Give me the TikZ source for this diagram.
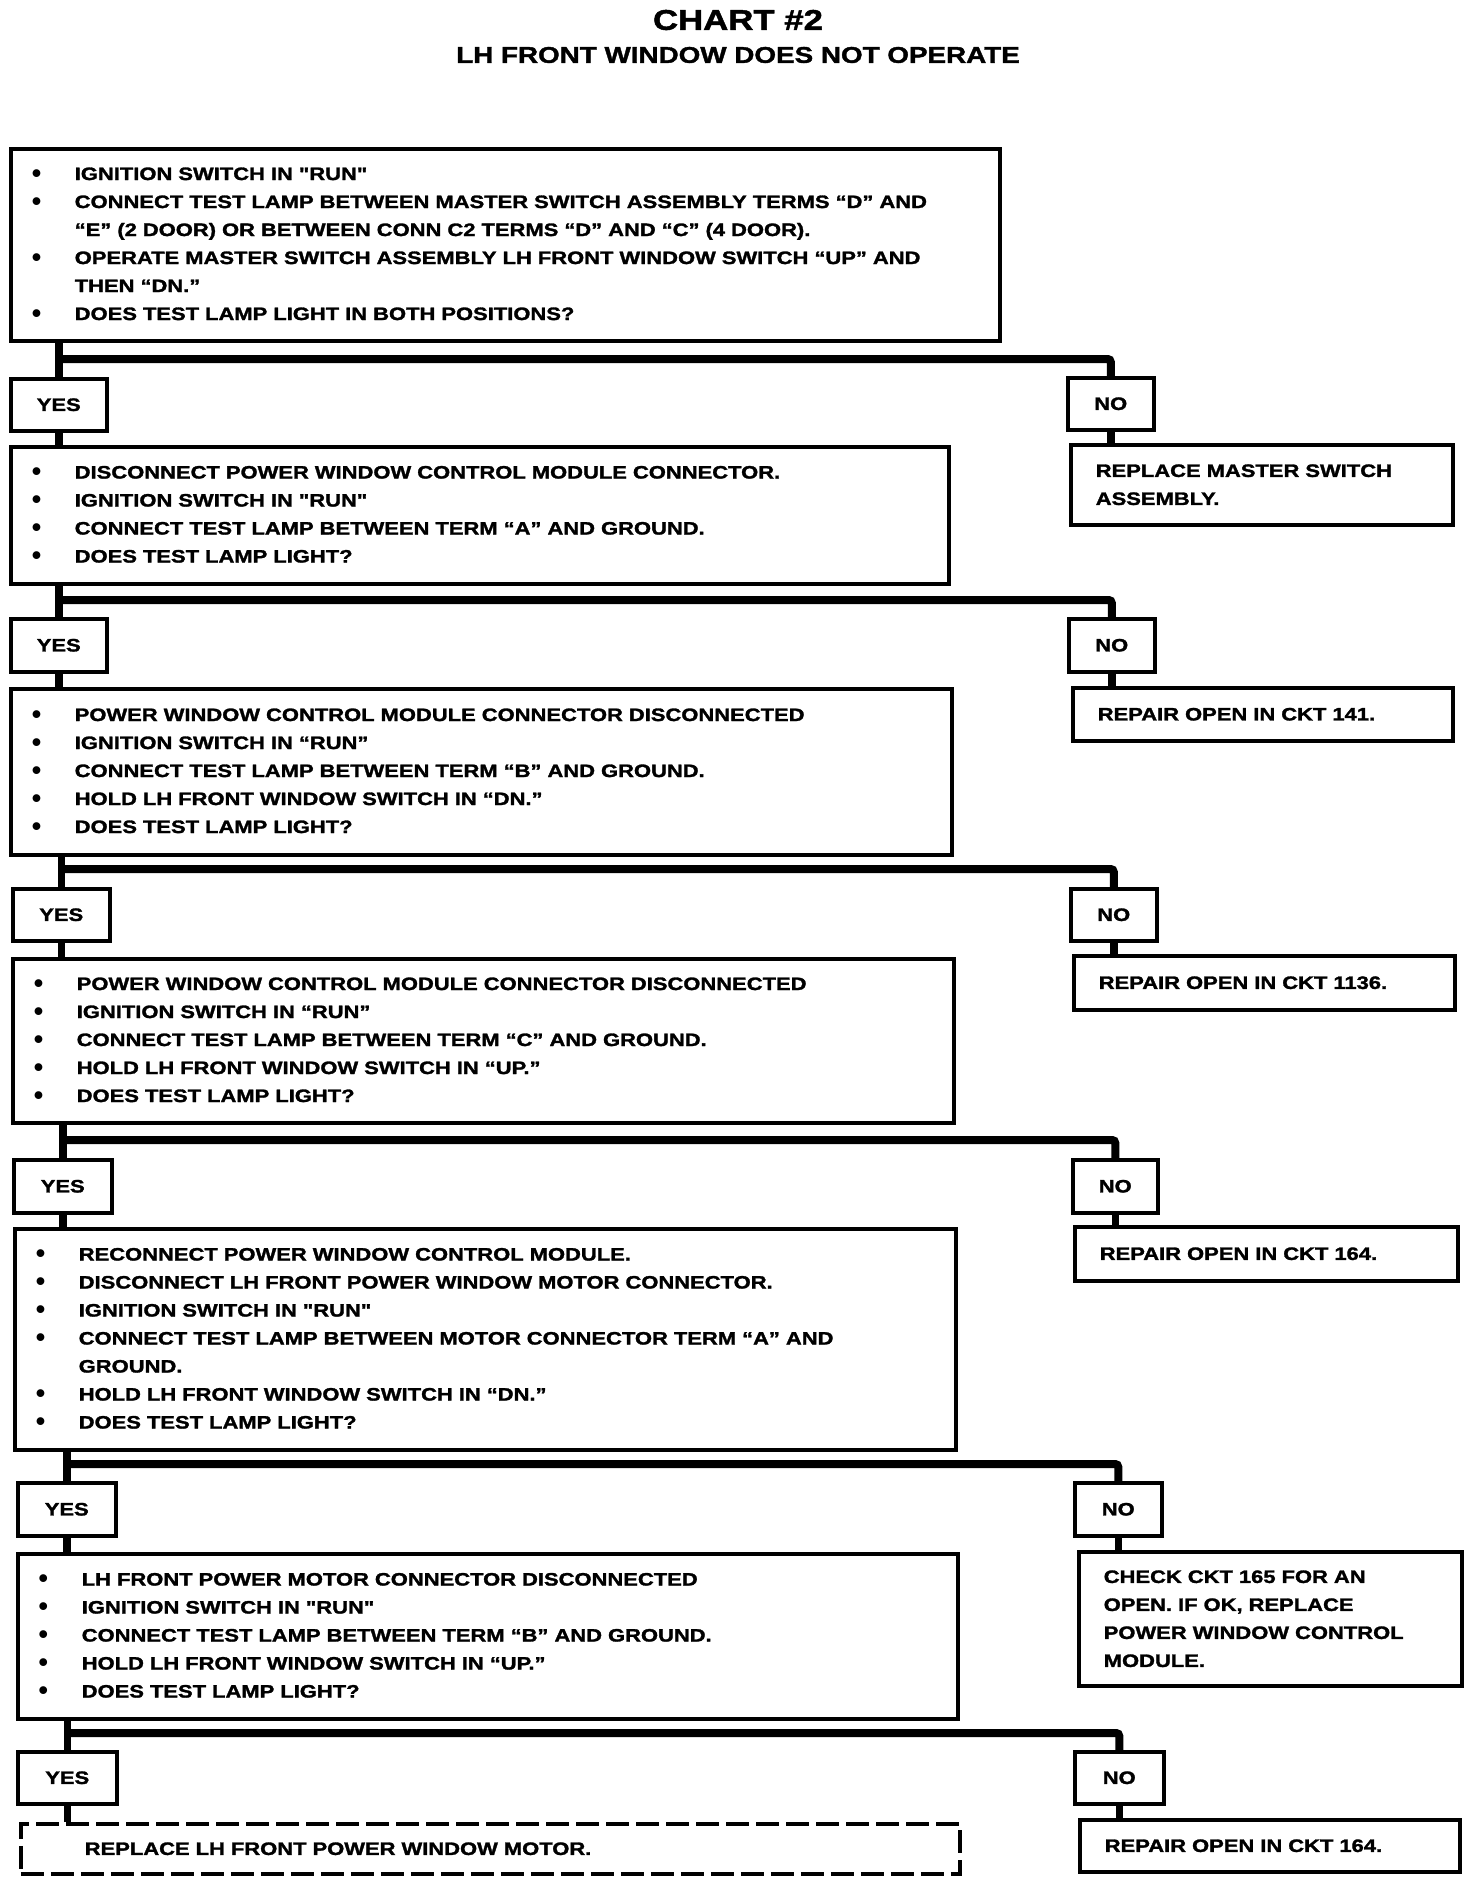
\documentclass[tikz,border=0pt]{standalone}
\usepackage{fontspec}
\setmainfont{Liberation Sans}[FakeStretch=1.22, FakeBold=1.6, Ligatures=TeXOff]
\newfontfamily\blfont{Liberation Sans}
\usetikzlibrary{calc}
\newcommand\bl{\makebox[44pt][l]{\hspace{1pt}\raisebox{-2pt}{\blfont\fontsize{27}{27}\selectfont •}}}
\newcommand\ind{\hspace*{44pt}}
\tikzset{
  bodyfont/.style={font=\fontsize{18}{28}\selectfont\bfseries},
  qbox/.style={draw, line width=3.5pt, anchor=north west, inner xsep=20pt, inner ysep=0pt, align=left, bodyfont},
  rbox/.style={draw, line width=3.5pt, anchor=north west, inner xsep=25pt, inner ysep=0pt, align=left, bodyfont},
  ybox/.style={draw, line width=3.5pt, anchor=north west, inner sep=0pt, align=center, bodyfont},
  dbox/.style={draw, line width=3.5pt, dash pattern=on 23pt off 7pt, anchor=north west, inner xsep=64pt, inner ysep=0pt, align=left, bodyfont},
  conn/.style={line width=7.5pt},
  bar/.style={line width=8pt, rounded corners=3pt},
}
\begin{document}
\begin{tikzpicture}[x=1pt,y=-1pt]
\useasboundingbox (0,0) rectangle (1472,1884);
% titles
\node[font=\fontsize{28.5}{30}\selectfont\bfseries] (title) at (738,20) {CHART \#2};
\node[font=\fontsize{22.8}{24}\selectfont\bfseries] (subtitle) at (738,55) {LH FRONT WINDOW DOES NOT OPERATE};

% level 1
\node[qbox, minimum width=989pt, minimum height=192pt, text width=949pt] (q1) at (9,147) {%
\bl IGNITION SWITCH IN "RUN"\\
\bl CONNECT TEST LAMP BETWEEN MASTER SWITCH ASSEMBLY TERMS “D” AND\\
\ind “E” (2 DOOR) OR BETWEEN CONN C2 TERMS “D” AND “C” (4 DOOR).\\
\bl OPERATE MASTER SWITCH ASSEMBLY LH FRONT WINDOW SWITCH “UP” AND\\
\ind THEN “DN.”\\
\bl DOES TEST LAMP LIGHT IN BOTH POSITIONS?};
\coordinate (b1) at (0,359);
\node[ybox, minimum width=96pt, minimum height=52pt] (yes1) at (9,377) {YES};
\node[ybox, minimum width=86pt, minimum height=52pt] (no1) at (1066,376) {NO};

% level 2
\node[qbox, minimum width=938pt, minimum height=137pt, text width=898pt] (q2) at (9,445) {%
\bl DISCONNECT POWER WINDOW CONTROL MODULE CONNECTOR.\\
\bl IGNITION SWITCH IN "RUN"\\
\bl CONNECT TEST LAMP BETWEEN TERM “A” AND GROUND.\\
\bl DOES TEST LAMP LIGHT?};
\node[rbox, minimum width=382pt, minimum height=80pt, text width=332pt] (r1) at (1069,443) {REPLACE MASTER SWITCH\\ASSEMBLY.};
\coordinate (b2) at (0,600);
\node[ybox, minimum width=96pt, minimum height=53pt] (yes2) at (9,617) {YES};
\node[ybox, minimum width=86pt, minimum height=53pt] (no2) at (1067,617) {NO};

% level 3
\node[qbox, minimum width=941pt, minimum height=166pt, text width=901pt] (q3) at (9,687) {%
\bl POWER WINDOW CONTROL MODULE CONNECTOR DISCONNECTED\\
\bl IGNITION SWITCH IN “RUN”\\
\bl CONNECT TEST LAMP BETWEEN TERM “B” AND GROUND.\\
\bl HOLD LH FRONT WINDOW SWITCH IN “DN.”\\
\bl DOES TEST LAMP LIGHT?};
\node[rbox, minimum width=380pt, minimum height=53pt, text width=330pt] (r2) at (1071,686) {REPAIR OPEN IN CKT 141.};
\coordinate (b3) at (0,869);
\node[ybox, minimum width=97pt, minimum height=52pt] (yes3) at (11,887) {YES};
\node[ybox, minimum width=86pt, minimum height=52pt] (no3) at (1069,887) {NO};

% level 4
\node[qbox, minimum width=941pt, minimum height=164pt, text width=901pt] (q4) at (11,957) {%
\bl POWER WINDOW CONTROL MODULE CONNECTOR DISCONNECTED\\
\bl IGNITION SWITCH IN “RUN”\\
\bl CONNECT TEST LAMP BETWEEN TERM “C” AND GROUND.\\
\bl HOLD LH FRONT WINDOW SWITCH IN “UP.”\\
\bl DOES TEST LAMP LIGHT?};
\node[rbox, minimum width=381pt, minimum height=54pt, text width=331pt] (r3) at (1072,954) {REPAIR OPEN IN CKT 1136.};
\coordinate (b4) at (0,1140);
\node[ybox, minimum width=98pt, minimum height=53pt] (yes4) at (12,1158) {YES};
\node[ybox, minimum width=85pt, minimum height=53pt] (no4) at (1071,1158) {NO};

% level 5
\node[qbox, minimum width=941pt, minimum height=221pt, text width=901pt] (q5) at (13,1227) {%
\bl RECONNECT POWER WINDOW CONTROL MODULE.\\
\bl DISCONNECT LH FRONT POWER WINDOW MOTOR CONNECTOR.\\
\bl IGNITION SWITCH IN "RUN"\\
\bl CONNECT TEST LAMP BETWEEN MOTOR CONNECTOR TERM “A” AND\\
\ind GROUND.\\
\bl HOLD LH FRONT WINDOW SWITCH IN “DN.”\\
\bl DOES TEST LAMP LIGHT?};
\node[rbox, minimum width=383pt, minimum height=54pt, text width=333pt] (r4) at (1073,1225) {REPAIR OPEN IN CKT 164.};
\coordinate (b5) at (0,1464);
\node[ybox, minimum width=98pt, minimum height=53pt] (yes5) at (16,1481) {YES};
\node[ybox, minimum width=87pt, minimum height=53pt] (no5) at (1073,1481) {NO};

% level 6
\node[qbox, minimum width=940pt, minimum height=165pt, text width=900pt] (q6) at (16,1552) {%
\bl LH FRONT POWER MOTOR CONNECTOR DISCONNECTED\\
\bl IGNITION SWITCH IN "RUN"\\
\bl CONNECT TEST LAMP BETWEEN TERM “B” AND GROUND.\\
\bl HOLD LH FRONT WINDOW SWITCH IN “UP.”\\
\bl DOES TEST LAMP LIGHT?};
\node[rbox, minimum width=383pt, minimum height=134pt, text width=333pt] (r5) at (1077,1550) {CHECK CKT 165 FOR AN\\OPEN. IF OK, REPLACE\\POWER WINDOW CONTROL\\MODULE.};
\coordinate (b6) at (0,1733);
\node[ybox, minimum width=99pt, minimum height=52pt] (yes6) at (16,1750) {YES};
\node[ybox, minimum width=89pt, minimum height=52pt] (no6) at (1073,1750) {NO};

% final
\node[dbox, minimum width=939pt, minimum height=50pt, text width=811pt] (fin) at (19,1822) {REPLACE LH FRONT POWER WINDOW MOTOR.};
\node[rbox, minimum width=380pt, minimum height=52pt, text width=330pt] (r6) at (1078,1818) {REPAIR OPEN IN CKT 164.};

% connectors
\foreach \q/\y/\n/\b/\nq/\r in {q1/yes1/no1/b1/q2/r1, q2/yes2/no2/b2/q3/r2, q3/yes3/no3/b3/q4/r3, q4/yes4/no4/b4/q5/r4, q5/yes5/no5/b5/q6/r5, q6/yes6/no6/b6/fin/r6}{
  \draw[conn] (\q.south -| \y.north) -- (\y.north);
  \draw[bar] (\b -| \y.north) -- (\b -| \n.north) -- (\n.north);
  \draw[conn] (\y.south) -- (\nq.north -| \y.south);
  \draw[conn] (\n.south) -- (\r.north -| \n.south);
}
\end{tikzpicture}
\end{document}
